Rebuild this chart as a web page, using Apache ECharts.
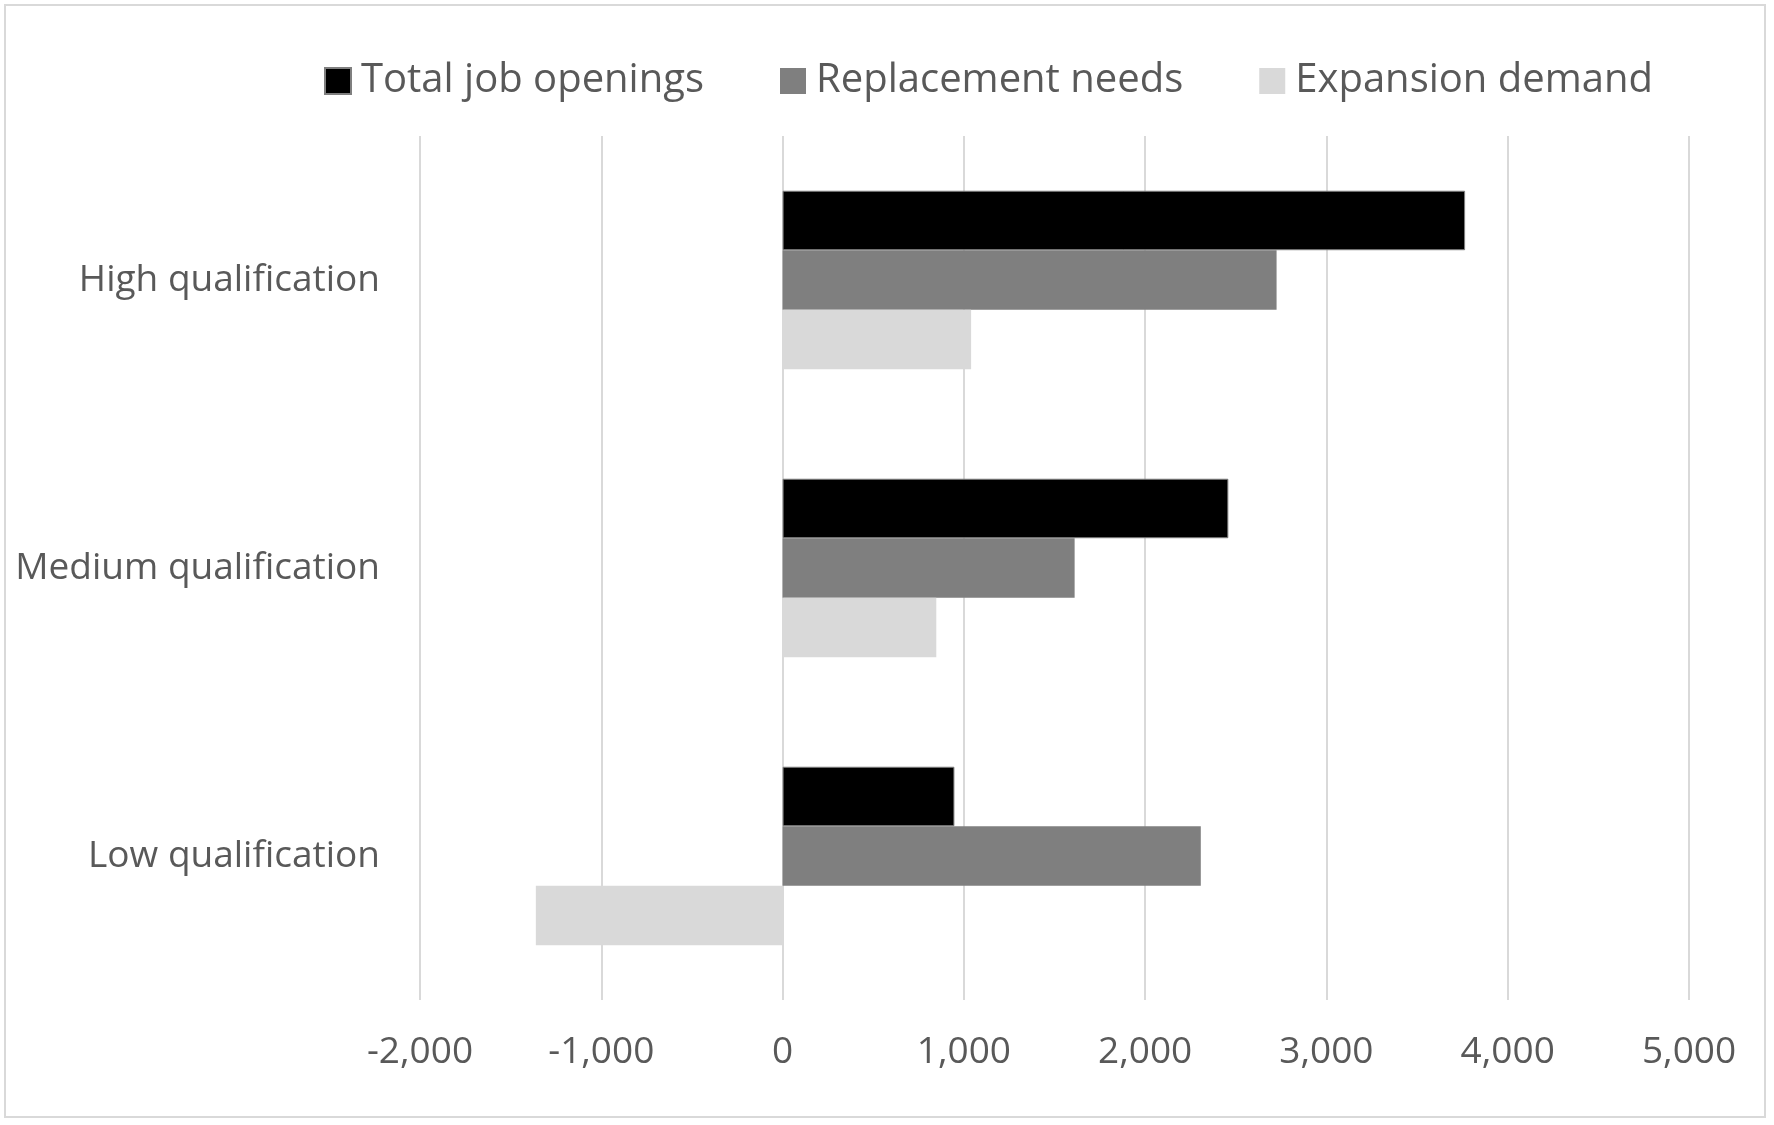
<!DOCTYPE html>
<html>
<head>
<meta charset="utf-8">
<script src="https://cdn.jsdelivr.net/npm/echarts@6/dist/echarts.min.js"></script>
<style>
html,body{margin:0;padding:0;background:#fff;}
#frame{position:absolute;left:4px;top:4px;width:1762px;height:1114px;border:2px solid #d9d9d9;box-sizing:border-box;}
#chart{position:absolute;left:0;top:0;width:1774px;height:1125px;}
</style>
</head>
<body>
<div id="frame"></div>
<div id="chart"></div>
<script>
var categories = ['High qualification', 'Medium qualification', 'Low qualification'];
var seriesNames = ['Total job openings', 'Replacement needs', 'Expansion demand'];
var totalJobOpenings = [3765, 2459, 948];
var replacementNeeds = [2725, 1611, 2307];
var expansionDemand = [1040, 848, -1361];
var tickMin = -2000, tickMax = 5000, tickStep = 1000;

var FONT = 'Open Sans';
var TXT = '#595959';
var chart = echarts.init(document.getElementById('chart'), null, {renderer: 'canvas'});
chart.setOption({
  animation: false,
  textStyle: {fontFamily: FONT},
  legend: {
    left: 319, top: 56,
    itemWidth: 26, itemHeight: 26, itemGap: 76,
    icon: 'rect',
    textStyle: {fontSize: 40, color: TXT, fontFamily: FONT, padding: [0, 0, 0, 5]},
    data: seriesNames
  },
  grid: {left: 420, right: 85, top: 136, bottom: 125, containLabel: false},
  xAxis: {
    type: 'value', min: tickMin, max: tickMax, interval: tickStep,
    axisLine: {show: false}, axisTick: {show: false},
    splitLine: {show: true, lineStyle: {color: '#d9d9d9', width: 2}},
    axisLabel: {
      fontSize: 37, color: TXT, fontFamily: FONT, margin: 34,
      formatter: function (v) { return v.toLocaleString('en-US'); }
    }
  },
  yAxis: {
    type: 'category', data: categories, inverse: true,
    axisLine: {show: false}, axisTick: {show: false}, splitLine: {show: false},
    axisLabel: {fontSize: 37, color: TXT, fontFamily: FONT, margin: 40}
  },
  series: [
    {name: seriesNames[0], type: 'bar', data: totalJobOpenings, barGap: '0%', barCategoryGap: '38%',
     itemStyle: {color: '#000000', borderColor: '#7f7f7f', borderWidth: 1}},
    {name: seriesNames[1], type: 'bar', data: replacementNeeds, barGap: '0%', barCategoryGap: '38%',
     itemStyle: {color: '#7f7f7f'}},
    {name: seriesNames[2], type: 'bar', data: expansionDemand, barGap: '0%', barCategoryGap: '38%',
     itemStyle: {color: '#d9d9d9'}}
  ]
});
</script>
</body>
</html>
